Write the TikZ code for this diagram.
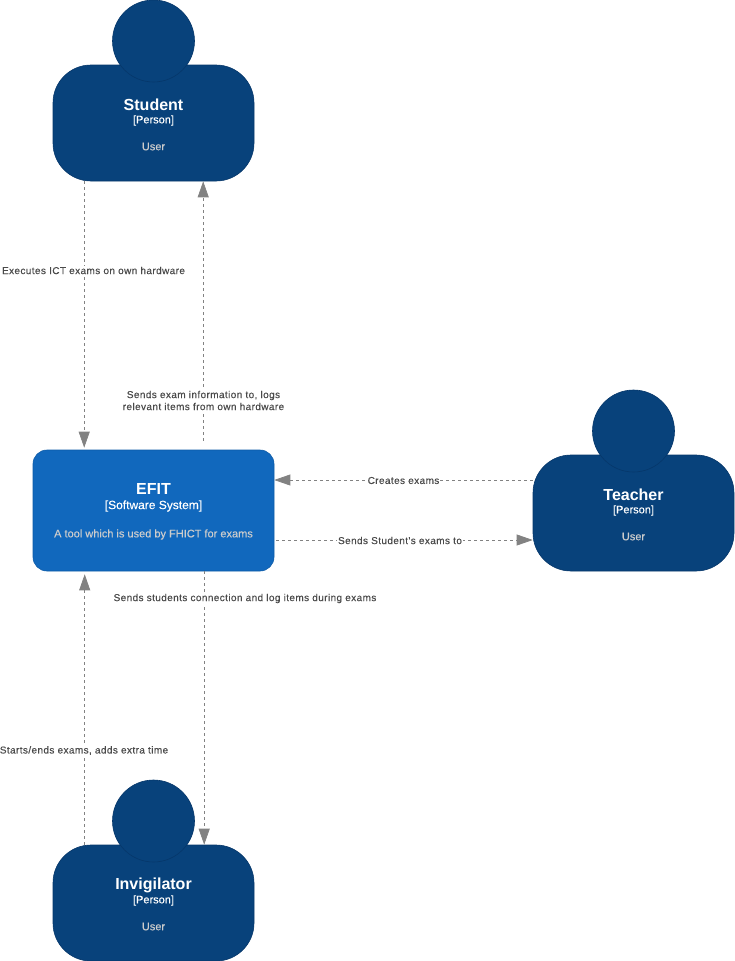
\documentclass[tikz,border=0pt]{standalone}
\usepackage{fontspec}
\setmainfont{Liberation Sans}
\newfontfamily\labfont[LetterSpace=4,FakeBold=0.25]{Liberation Sans}
\newfontfamily\softfont[FakeBold=0.25]{Liberation Sans}
\usetikzlibrary{arrows.meta,calc}
\definecolor{persona}{HTML}{08427B}
\definecolor{personline}{HTML}{06376A}
\definecolor{sysfill}{HTML}{1168BD}
\definecolor{sysline}{HTML}{0E5CA8}
\definecolor{conn}{HTML}{828282}
\definecolor{labtext}{HTML}{4A4A4A}
\definecolor{desc}{HTML}{CCCCCC}
\tikzset{
  x=1pt,y=-1pt,
  personbody/.style={draw=personline,fill=persona,line width=.6pt,rounded corners=38pt,minimum width=201pt,minimum height=116pt,inner sep=0pt},
  personhead/.style={circle,draw=personline,fill=persona,line width=.6pt,minimum size=82pt,inner sep=0pt},
  sysbox/.style={draw=sysline,fill=sysfill,line width=.6pt,rounded corners=14pt,minimum width=241pt,minimum height=121pt,inner sep=0pt},
  titletext/.style={text=white,font=\fontsize{16}{18}\selectfont\bfseries,inner sep=0pt},
  kindtext/.style={text=white,font=\softfont\fontsize{11}{14}\selectfont,inner sep=0pt},
  syskind/.style={text=white,font=\softfont\fontsize{12}{14}\selectfont,inner sep=0pt},
  desctext/.style={text=desc,font=\softfont\fontsize{11}{14}\selectfont,inner sep=0pt},
  rel/.style={draw=conn,line width=.7pt,dash pattern=on 3pt off 3pt,-{Triangle[length=16pt,width=11pt,fill=conn]}},
  lab/.style={fill=white,text=labtext,font=\labfont\fontsize{10}{12}\selectfont,align=center,inner sep=1pt},
}
\begin{document}
\begin{tikzpicture}
\useasboundingbox (0,0) rectangle (734,961);
% people
\node[personbody] (student) at (153.5,123) {};
\node[personhead] (studenthead) at (153.5,41) {};
\node[titletext] (studenttitle) at (153.5,104.5) {Student};
\node[kindtext] (studentkind) at (153.5,120.5) {[Person]};
\node[desctext] (studentdesc) at (153.5,146.5) {User};
\node[personbody] (teacher) at (633.5,513) {};
\node[personhead] (teacherhead) at (633.5,431) {};
\node[titletext] (teachertitle) at (633.5,494.5) {Teacher};
\node[kindtext] (teacherkind) at (633.5,510.5) {[Person]};
\node[desctext] (teacherdesc) at (633.5,536.5) {User};
\node[personbody] (invig) at (153.5,903) {};
\node[personhead] (invighead) at (153.5,821) {};
\node[titletext] (invigtitle) at (153.5,885) {Invigilator};
\node[kindtext] (invigkind) at (153.5,900.5) {[Person]};
\node[desctext] (invigdesc) at (153.5,926.5) {User};
% system
\node[sysbox] (efit) at (153.5,510.5) {};
\node[titletext] (efittitle) at (153.5,489) {EFIT};
\node[syskind] (efitkind) at (153.5,506) {[Software System]};
\node[desctext] (efitdesc) at (153.5,534.5) {A tool which is used by FHICT for exams};
% connectors
\draw[rel] ([xshift=31.5pt]student.south west) -- ([xshift=51.5pt,yshift=2pt]efit.north west);
\draw[rel] ([xshift=170.5pt,yshift=9pt]efit.north west) -- ([xshift=150.5pt]student.south west);
\draw[rel] ([xshift=32pt]invig.north west) -- ([xshift=52pt,yshift=-3pt]efit.south west);
\draw[rel] ([xshift=171.5pt]efit.south west) -- ([xshift=151.5pt]invig.north west);
\draw[rel] ([yshift=33pt]teacher.west) -- ([yshift=30.5pt]efit.east);
\draw[rel] ([xshift=2pt,yshift=-29.5pt]efit.east) -- ([yshift=-27pt]teacher.west);
% labels
\node[lab] (l1) at (93.5,270.5) {Executes ICT exams on own hardware};
\node[lab] (l2) at (203.5,400.5) {Sends exam information to, logs\\relevant items from own hardware};
\node[lab] (l3) at (403.5,480.5) {Creates exams};
\node[lab] (l4) at (400,540.5) {Sends Student's exams to};
\node[lab] (l5) at (245,598.5) {Sends students connection and log items during exams};
\node[lab] (l6) at (84,750.5) {Starts/ends exams, adds extra time};
\end{tikzpicture}
\end{document}
